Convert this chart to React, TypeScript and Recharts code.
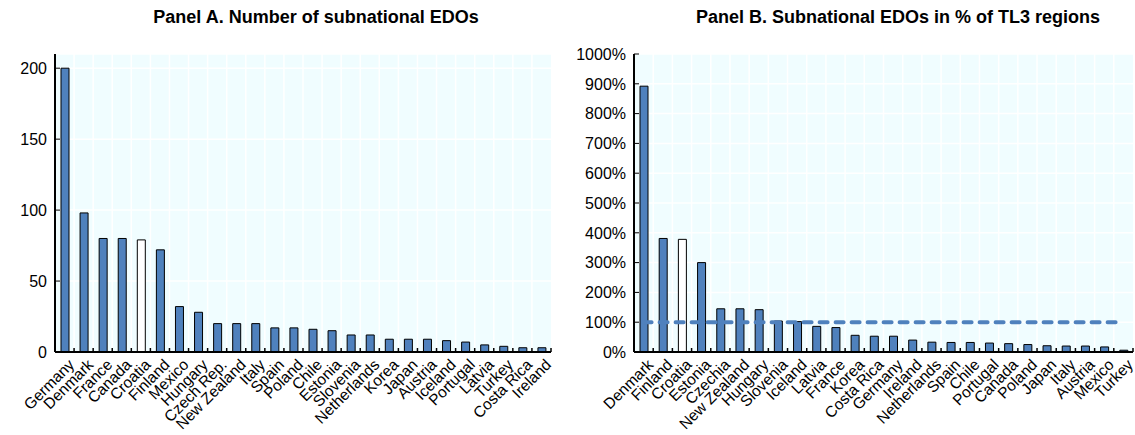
import React from "react";
import { BarChart, Bar, XAxis, YAxis, CartesianGrid, Cell, Line, ComposedChart } from "recharts";

const panelACountries = ["Germany", "Denmark", "France", "Canada", "Croatia", "Finland", "Mexico", "Hungary", "Czech Rep.", "New Zealand", "Italy", "Spain", "Poland", "Chile", "Estonia", "Slovenia", "Netherlands", "Korea", "Japan", "Austria", "Iceland", "Portugal", "Latvia", "Turkey", "Costa Rica", "Ireland"];
const panelAValues = [200, 98, 80, 80, 79, 72, 32, 28, 20, 20, 20, 17, 17, 16, 15, 12, 12, 9, 9, 9, 8, 7, 5, 4, 3, 3];

const panelBCountries = ["Denmark", "Finland", "Croatia", "Estonia", "Czechia", "New Zealand", "Hungary", "Slovenia", "Iceland", "Latvia", "France", "Korea", "Costa Rica", "Germany", "Ireland", "Netherlands", "Spain", "Chile", "Portugal", "Canada", "Poland", "Japan", "Italy", "Austria", "Mexico", "Turkey"];
const panelBValues = [892, 381, 378, 300, 145, 145, 142, 104, 102, 86, 82, 56, 53, 53, 40, 33, 32, 32, 30, 28, 25, 21, 20, 20, 17, 6];
const panelBThreshold = [100, 100, 100, 100, 100, 100, 100, 100, 100, 100, 100, 100, 100, 100, 100, 100, 100, 100, 100, 100, 100, 100, 100, 100, 100, 100];

const panelATicks = [0, 50, 100, 150, 200];
const panelBTicks = [0, 100, 200, 300, 400, 500, 600, 700, 800, 900, 1000];
const highlightCountry = "Croatia";

const titleA = "Panel A. Number of subnational EDOs";
const titleB = "Panel B. Subnational EDOs in % of TL3 regions";

const dataA = panelACountries.map((c, i) => ({ country: c, value: panelAValues[i] }));
const dataB = panelBCountries.map((c, i) => ({ country: c, value: panelBValues[i], threshold: panelBThreshold[i] }));

const FONT = "'Liberation Sans Narrow', 'Arial Narrow', 'Liberation Sans', Arial, sans-serif";
const BLUE = "#4F81BD";
const BG = "#F0FDFF";

const CHART_H = 435;
const TOP = 54;
const XAXIS_H = 83;

function makeXTick(band: number) {
  return function XTick(props: any) {
    const { x, y, payload } = props;
    return (
      <g>
        <line x1={x + band / 2} x2={x + band / 2} y1={y - 4} y2={y - 8} stroke="#000" strokeWidth={1.5} />
        <text
          transform={`translate(${x + 3},${y + 2}) rotate(-45)`}
          textAnchor="end"
          dy="0.7em"
          fontSize={15.5}
          fontFamily={FONT}
          fill="#000"
        >
          {payload.value}
        </text>
      </g>
    );
  };
}

function makeYTick(fmt: (v: number) => string) {
  return function YTick(props: any) {
    const { x, y, payload } = props;
    return (
      <g>
        <line x1={x + 6} x2={x + 11} y1={y} y2={y} stroke="#000" strokeWidth={1} />
        <text x={x - 2} y={y} dy="0.36em" textAnchor="end" fontSize={16} fontFamily={FONT} fill="#000">
          {fmt(payload.value)}
        </text>
      </g>
    );
  };
}

function gridGen(n: number) {
  return ({ offset }: any) => {
    const out: number[] = [];
    for (let i = 1; i < n; i++) out.push(offset.left + (i * offset.width) / n);
    return out;
  };
}

function Panel(props: {
  data: any[];
  width: number;
  yWidth: number;
  rightMargin: number;
  domain: [number, number];
  ticks: number[];
  fmt: (v: number) => string;
  withLine?: boolean;
}) {
  const { data, width, yWidth, rightMargin, domain, ticks, fmt, withLine } = props;
  const plotW = width - yWidth - rightMargin;
  const band = plotW / data.length;
  return (
    <ComposedChart
      width={width}
      height={CHART_H}
      data={data}
      margin={{ top: TOP, right: rightMargin, left: 0, bottom: 0 }}
      barCategoryGap={0}
    >
      <CartesianGrid
        fill={BG}
        stroke="#FFFFFF"
        strokeWidth={1.5}
        verticalCoordinatesGenerator={gridGen(data.length)}
      />
      <XAxis
        dataKey="country"
        interval={0}
        height={XAXIS_H}
        tickSize={0}
        tickMargin={4}
        tickLine={false}
        axisLine={{ stroke: "#000", strokeWidth: 2 }}
        tick={makeXTick(band)}
      />
      <XAxis
        xAxisId="top"
        dataKey="country"
        orientation="top"
        height={0}
        tick={false}
        tickLine={false}
        axisLine={{ stroke: "#000", strokeWidth: 2 }}
      />
      <YAxis
        width={yWidth}
        domain={domain}
        ticks={ticks}
        interval={0}
        tickSize={0}
        tickMargin={6}
        tickLine={false}
        axisLine={{ stroke: "#000", strokeWidth: 2 }}
        tick={makeYTick(fmt)}
      />
      <YAxis
        yAxisId="right"
        orientation="right"
        width={0}
        domain={domain}
        tick={false}
        tickLine={false}
        axisLine={{ stroke: "#000", strokeWidth: 1.5 }}
      />
      <Bar dataKey="value" barSize={8} stroke="#000" strokeWidth={1} isAnimationActive={false}>
        {data.map((d, i) => (
          <Cell key={i} fill={d.country === highlightCountry ? "#FFFFFF" : BLUE} />
        ))}
      </Bar>
      {withLine ? (
        <Line
          dataKey="threshold"
          stroke={BLUE}
          strokeWidth={4}
          strokeDasharray="8 8"
          strokeLinecap="round"
          dot={false}
          activeDot={false}
          isAnimationActive={false}
        />
      ) : null}
    </ComposedChart>
  );
}

export default function App() {
  return (
    <div style={{ position: "absolute", left: 0, top: 0, width: 1135, height: 435, background: "#fff", overflow: "hidden" }}>
      <div
        style={{
          position: "absolute",
          left: 0,
          width: 632,
          top: 7,
          textAlign: "center",
          fontFamily: FONT,
          fontWeight: "bold",
          fontSize: 18,
        }}
      >
        {titleA}
      </div>
      <div
        style={{
          position: "absolute",
          left: 660,
          width: 476,
          top: 7,
          textAlign: "center",
          fontFamily: FONT,
          fontWeight: "bold",
          fontSize: 18,
        }}
      >
        {titleB}
      </div>
      <div style={{ position: "absolute", left: 0, top: 0 }}>
        <Panel data={dataA} width={560} yWidth={55} rightMargin={9} domain={[0, 210]} ticks={panelATicks} fmt={(v) => String(v)} />
      </div>
      <div style={{ position: "absolute", left: 560, top: 0 }}>
        <Panel
          data={dataB}
          width={575}
          yWidth={74}
          rightMargin={2}
          domain={[0, 1000]}
          ticks={panelBTicks}
          fmt={(v) => `${v}%`}
          withLine
        />
      </div>
    </div>
  );
}
